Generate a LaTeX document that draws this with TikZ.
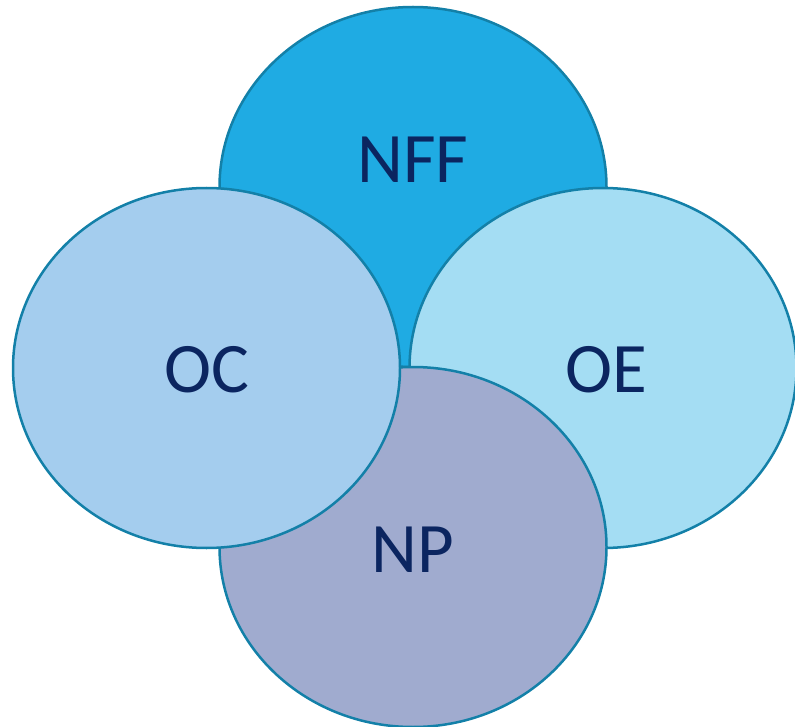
\documentclass[tikz,border=0pt]{standalone}
\usepackage{fontspec}
\setmainfont{Carlito}
\usetikzlibrary{shapes.geometric}
\definecolor{cNFF}{HTML}{1FABE3}
\definecolor{cOC}{HTML}{A4CDEE}
\definecolor{cOE}{HTML}{A4DDF3}
\definecolor{cNP}{HTML}{A0ABCF}
\definecolor{cEdge}{HTML}{1380A8}
\definecolor{cText}{HTML}{0B2560}
\tikzset{
  blob/.style={ellipse, draw=cEdge, line width=2.5pt, inner sep=0pt,
    minimum width=387pt, minimum height=360pt},
  lbl/.style={text=cText, font=\fontsize{71}{80}\selectfont, inner sep=0pt}
}
\begin{document}
\begin{tikzpicture}[x=1pt,y=-1pt]
\useasboundingbox (0,0) rectangle (795,727);
\node[blob, fill=cNFF] (nff) at (413,187) {};
\node[blob, fill=cOE] (oe) at (603,368) {};
\node[blob, fill=cNP] (np) at (413,547) {};
\node[blob, fill=cOC] (oc) at (206.5,368) {};
\node[lbl] (tnff) at (413,160) {NFF};
\node[lbl] (toc) at (207,370) {OC};
\node[lbl] (toe) at (606,370) {OE};
\node[lbl] (tnp) at (413,550) {NP};
\end{tikzpicture}
\end{document}
